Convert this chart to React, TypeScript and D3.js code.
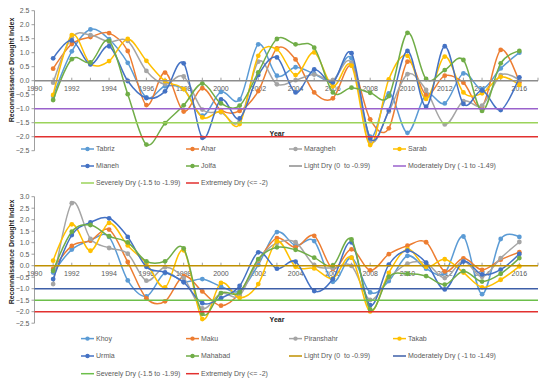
import * as d3 from 'd3';

// years shared by all stations
const years = d3.range(1991, 2017);

// upper panel stations
const tabriz = [-0.55, 1.05, 1.83, 1.48, 0.64, -0.6, -0.2, -0.3, -1.25, -0.4, -0.67, 1.3, 0.18, 0.48, 0.24, 0.0, 0.8, -2.0, -0.45, -1.86, -0.49, -0.81, 0.26, -0.3, 0.44, 1.0];
const ahar = [0.43, 1.31, 1.56, 1.7, 1.06, -0.87, 0.29, -1.1, -0.27, -1.05, -1.08, -0.37, 1.15, 0.76, -0.42, -0.63, 0.54, -1.38, -1.7, 0.68, -0.51, 0.18, -0.07, -0.92, 1.1, -0.06];
const maragheh = [-0.07, 1.55, 1.63, 1.39, 1.42, 0.35, -0.12, 0.15, -1.03, -1.13, -1.46, 0.68, -0.13, 0.02, 0.22, 0.02, 0.64, -2.15, -1.1, 0.23, -0.33, -1.56, -0.73, -0.89, 0.2, 0.02];
const sarab = [-0.51, 1.63, 0.6, 0.7, 1.49, 0.71, -0.01, -0.3, -1.31, -1.1, -1.55, 0.89, 1.12, 0.2, 1.01, -0.2, 0.54, -2.3, 0.05, 0.89, -0.65, 0.86, -0.42, -0.45, 0.14, -0.15];
const mianeh = [0.8, 1.44, 0.58, 1.23, -0.01, -0.62, -0.38, 0.62, -2.04, -0.67, -1.35, 0.2, 0.83, -0.42, 0.4, -0.06, 0.98, -2.06, -1.05, 1.06, -0.93, 1.23, -0.83, -0.35, -1.05, 0.12];
const jolfa = [-0.69, 0.77, 0.65, 1.42, -0.48, -2.28, -1.52, -0.88, -0.1, -0.81, -0.89, 0.3, 1.49, 1.3, 1.18, -0.42, -0.25, -0.43, -0.55, 1.71, 0.06, 0.38, 0.74, -1.08, 0.62, 1.06];

// lower panel stations
const khoy = [-0.3, 0.7, 1.1, 1.25, -0.64, -1.33, -0.32, -0.7, -0.58, -0.9, -1.1, 0.04, 1.46, 0.88, 1.07, -0.7, 0.35, -1.16, -0.67, 0.43, -0.13, -0.32, 1.27, -1.24, 1.16, 1.25];
const maku = [-0.14, 0.86, 1.09, 1.57, 0.16, -1.42, -1.55, -0.45, -1.12, -1.74, -1.19, 0.22, 1.2, 0.8, 1.3, -0.14, 0.71, -0.2, 0.5, 0.87, 1.02, -0.25, 0.32, -0.18, 0.26, 0.59];
const piranshahr = [-0.8, 2.72, 1.17, 0.77, 0.52, -0.65, -0.07, -0.54, -1.86, -1.2, -1.3, 0.25, 0.99, 1.02, 0.03, -0.1, -0.01, -1.49, -0.54, 0.09, 0.12, -0.54, 0.2, -0.48, 0.33, 1.03];
const takab = [0.22, 1.8, 0.65, 1.86, 0.88, 0.1, -0.94, 0.67, -2.32, -0.75, -1.4, -0.8, 1.06, -0.05, -0.12, -0.55, 0.35, -1.99, -0.31, 0.72, -0.05, 0.28, -0.3, -0.94, -0.61, -0.03];
const urmia = [-0.58, 1.33, 1.88, 2.06, 1.25, -0.05, -0.29, -0.72, -1.63, -1.41, -0.88, 0.58, -0.13, 0.18, -1.1, -0.58, 1.01, -1.72, 0.05, 0.65, 0.13, -1.03, 0.18, -0.38, -0.17, 0.51];
const mahabad = [-0.22, 1.48, 1.77, 1.28, 1.01, 0.19, 0.19, 0.75, -2.09, -1.19, -1.16, 0.29, 0.8, 0.69, 0.35, 0.01, 1.14, -1.9, -0.48, -0.35, -0.45, -0.82, -0.24, -0.69, -0.35, 0.33];

const topNames = ['Tabriz', 'Ahar', 'Maragheh', 'Sarab', 'Mianeh', 'Jolfa'];
const bottomNames = ['Khoy', 'Maku', 'Piranshahr', 'Takab', 'Urmia', 'Mahabad'];
const seriesColors = ['#5B9BD5', '#ED7D31', '#A5A5A5', '#FFC000', '#4472C4', '#70AD47'];

const classNames = ['Light Dry (0  to -0.99)', 'Moderately Dry ( -1 to -1.49)', 'Severely Dry (-1.5 to -1.99)', 'Extremely Dry (<= -2)'];
const classValues = [0, -1, -1.5, -2];
const topClassColors = ['#8C8C8C', '#9A62CC', '#9BD35A', '#E2312F'];
const bottomClassColors = ['#BF9000', '#3E5FA8', '#6CBF4A', '#E2312F'];

const topTicks = [2.5, 2, 1.5, 1, 0.5, 0, -0.5, -1, -1.5, -2, -2.5];
const bottomTicks = [3, 2.5, 2, 1.5, 1, 0.5, 0, -0.5, -1, -1.5, -2, -2.5];
const xLabels = d3.range(1990, 2017, 2);

const font = 'Liberation Sans, Arial, sans-serif';
const textColor = '#595959';

const x = d3.scaleLinear().domain([1990, 2017]).range([34.5, 538]);

type PanelProps = {
  names: string[];
  values: number[][];
  classColors: string[];
  ticks: number[];
  yDomain: [number, number];
  yRange: [number, number];
  yearY: number;
  legendY: number[];
  titleY: number;
};

function Panel({ names, values, classColors, ticks, yDomain, yRange, yearY, legendY, titleY }: PanelProps) {
  const y = d3.scaleLinear().domain(yDomain).range(yRange);
  const line = d3.line<number>()
    .x((d, i) => x(years[i]))
    .y(d => y(d))
    .curve(d3.curveCardinal);
  const fmt = d3.format('.1f');
  const x0 = x(1990);
  const x1 = x(2017);

  // legend items: stations then drought classes
  const items = [
    ...names.map((n, i) => ({ label: n, color: seriesColors[i], marker: true })),
    ...classNames.map((n, i) => ({ label: n, color: classColors[i], marker: false })),
  ];
  const colX = [81, 186, 289, 393];

  return (
    <g>
      {/* y axis */}
      <line x1={x0} x2={x0} y1={y(yDomain[1])} y2={y(yDomain[0])} stroke="#868686" strokeWidth={0.8} />
      {ticks.map(t => (
        <g key={t}>
          <line x1={x0 - 3} x2={x0} y1={y(t)} y2={y(t)} stroke="#868686" strokeWidth={0.8} />
          <text x={x0 - 5} y={y(t)} dy="0.35em" textAnchor="end" fontSize={7} fill={textColor} fontFamily={font}>
            {fmt(t)}
          </text>
        </g>
      ))}
      <text
        transform={`translate(14,${titleY}) rotate(-90)`}
        textAnchor="middle"
        fontSize={7}
        fontWeight="bold"
        fill="#222"
        fontFamily={font}
      >
        Reconnaissance Drought Index
      </text>

      {/* x axis on zero */}
      {d3.range(1991, 2018).map(yr => (
        <line key={yr} x1={x(yr)} x2={x(yr)} y1={y(0) - 3} y2={y(0)} stroke="#868686" strokeWidth={0.8} />
      ))}
      {xLabels.map(yr => (
        <text key={yr} x={x(yr)} y={y(0) + 10} textAnchor="middle" fontSize={7} fill={textColor} fontFamily={font}>
          {yr}
        </text>
      ))}
      <text x={277} y={yearY} textAnchor="middle" fontSize={7} fontWeight="bold" fill="#222" fontFamily={font}>
        Year
      </text>

      {/* station series */}
      {values.map((vals, i) => (
        <g key={names[i]}>
          <path d={line(vals) || ''} fill="none" stroke={seriesColors[i]} strokeWidth={1.5} />
          {vals.map((v, j) => (
            <circle key={j} cx={x(years[j])} cy={y(v)} r={2.4} fill={seriesColors[i]} />
          ))}
        </g>
      ))}

      {/* drought class lines */}
      {classValues.map((v, i) => (
        <line key={v} x1={x0} x2={x1} y1={y(v)} y2={y(v)} stroke={classColors[i]} strokeWidth={1.6} />
      ))}

      {/* legend */}
      {items.map((it, k) => {
        const lx = colX[k % 4];
        const ly = legendY[Math.floor(k / 4)];
        return (
          <g key={it.label}>
            <line x1={lx} x2={lx + 13} y1={ly} y2={ly} stroke={it.color} strokeWidth={1.5} />
            {it.marker && <circle cx={lx + 6.5} cy={ly} r={2.2} fill={it.color} />}
            <text
              x={lx + 15}
              y={ly}
              dy="0.35em"
              fontSize={7}
              fill={textColor}
              fontFamily={font}
              style={{ whiteSpace: 'pre' }}
            >
              {it.label}
            </text>
          </g>
        );
      })}
    </g>
  );
}

export default function App() {
  return (
    <svg width={550} height={383} style={{ position: 'absolute', left: 0, top: 0, background: '#fff' }}>
      <Panel
        names={topNames}
        values={[tabriz, ahar, maragheh, sarab, mianeh, jolfa]}
        classColors={topClassColors}
        ticks={topTicks}
        yDomain={[-2.5, 2.5]}
        yRange={[150.7, 10.7]}
        yearY={135.5}
        legendY={[149, 166, 183]}
        titleY={70}
      />
      <Panel
        names={bottomNames}
        values={[khoy, maku, piranshahr, takab, urmia, mahabad]}
        classColors={bottomClassColors}
        ticks={bottomTicks}
        yDomain={[-2.5, 3]}
        yRange={[323.2, 196.7]}
        yearY={321.5}
        legendY={[338.6, 356, 373.7]}
        titleY={252}
      />
    </svg>
  );
}
